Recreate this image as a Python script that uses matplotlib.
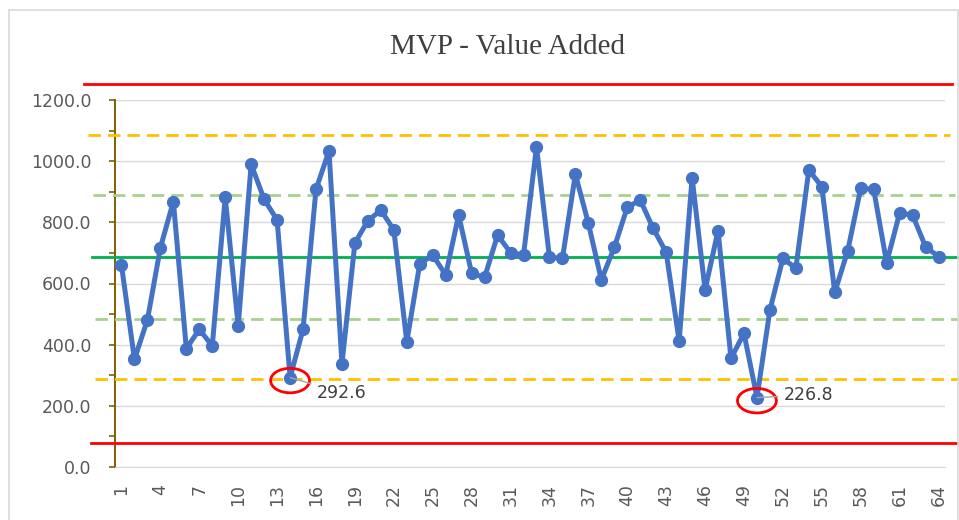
import numpy as np
import matplotlib
matplotlib.use("Agg")
import matplotlib.pyplot as plt
from matplotlib.patches import Ellipse, Rectangle
from matplotlib.transforms import blended_transform_factory

# values
samples = np.arange(1, 65)
value_added = [660, 352, 481, 717, 868, 387, 450, 396, 882, 462,
               990, 875, 808, 292.6, 450, 908, 1033, 338, 733, 805,
               840, 775, 409, 664, 693, 628, 824, 633, 620, 758,
               701, 693, 1047, 686, 682, 957, 797, 612, 718, 849,
               873, 780, 702, 412, 946, 579, 773, 355, 437, 226.8,
               513, 682, 650, 971, 917, 571, 707, 911, 908, 668,
               830, 824, 720, 688]

center_line = 687
sigma1 = [889, 484]
sigma2 = [1086, 288]
limits = [1252, 79]
flagged = [14, 50]

tick_pos = list(range(1, 65, 3))

blue = "#4472C4"
txt = "#595959"

fig = plt.figure(figsize=(9.59, 5.20), dpi=100)
ax = fig.add_axes([115/959, 1-467/520, 830/959, 367/520])

ax.plot(samples, value_added, color=blue, lw=3.6, marker="o", ms=8.5,
        zorder=5, solid_joinstyle="round")

ax.set_xlim(0.5, 64.5)
ax.set_ylim(0, 1200)
ax.set_yticks(np.arange(0, 1201, 200))
ax.set_yticks(np.arange(100, 1200, 200), minor=True)
ax.yaxis.set_major_formatter(matplotlib.ticker.FormatStrFormatter("%.1f"))
ax.set_xticks(tick_pos)
ax.set_xticklabels([str(t) for t in tick_pos], rotation=90)

ax.grid(axis="y", color="#D9D9D9", lw=1)
ax.set_axisbelow(True)
for s in ["top", "right"]:
    ax.spines[s].set_visible(False)
ax.spines["bottom"].set_color("#D9D9D9")
ax.spines["left"].set_color("#7F6000")
ax.spines["left"].set_linewidth(1.4)
ax.tick_params(axis="y", which="both", direction="out", length=4,
               color="#7F6000", width=1.2, pad=13, labelsize=12.5, labelcolor=txt)
ax.tick_params(axis="x", length=0, pad=12, labelsize=12.5, labelcolor=txt)

# control lines, extending beyond the plot area like the original
tr = blended_transform_factory(ax.transAxes, ax.transData)
def px(x):
    return (x - 115) / 830

def hline(y, x0, x1, color, dashed):
    ls = (0, (4.5, 2.5)) if dashed else "-"
    ax.plot([px(x0), px(x1)], [y, y], transform=tr, color=color, lw=2.0,
            ls=ls, clip_on=False, zorder=3)

hline(limits[0], 84, 952, "#FF0000", False)
hline(limits[1], 91, 959, "#FF0000", False)
hline(sigma2[0], 88, 950, "#FFC000", True)
hline(sigma2[1], 95, 959, "#FFC000", True)
hline(sigma1[0], 93, 955, "#A9D18E", True)
hline(sigma1[1], 95, 959, "#A9D18E", True)
hline(center_line, 92, 959, "#00B050", False)

# circled out-of-control points with labels
offsets = {14: (19, -11), 50: (19, 2)}
for i in flagged:
    v = value_added[i - 1]
    ax.add_patch(Ellipse((i, v - 10), 3.0, 80, fill=False, ec="#FF0000",
                         lw=2.0, zorder=6, clip_on=False))
    ax.annotate(f"{v:.1f}", (i, v), xytext=offsets[i], textcoords="offset points",
                fontsize=12.5, color="#404040", va="center", ha="left",
                arrowprops=dict(arrowstyle="-", color="#A6A6A6", lw=1,
                                shrinkA=2, shrinkB=0), zorder=7)

fig.text(507/959, 1-47/520, "MVP - Value Added", ha="center", va="center",
         fontsize=21, family="Liberation Serif", color="#404040")

fig.add_artist(Rectangle((9/959, -0.1), 949/959, 1.1 - 10/520, fill=False,
                         ec="#D9D9D9", lw=1.2, transform=fig.transFigure))

fig.savefig("out.png", dpi=100)
